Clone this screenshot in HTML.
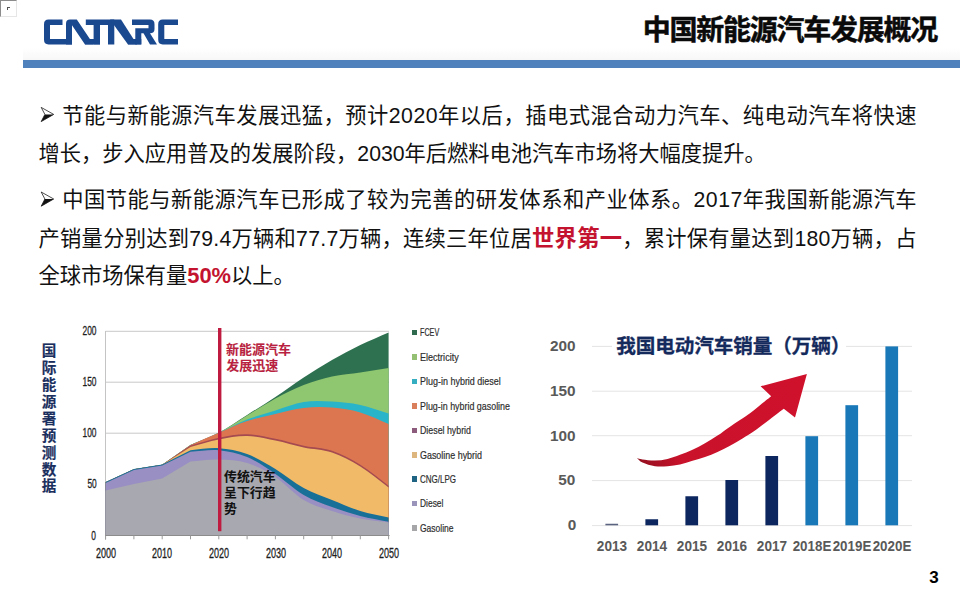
<!DOCTYPE html>
<html lang="zh"><head><meta charset="utf-8"><title>中国新能源汽车发展概况</title>
<style>
html,body{margin:0;padding:0;background:#fff;}
body{width:960px;height:600px;position:relative;overflow:hidden;font-family:"Liberation Sans",sans-serif;}
.t{position:absolute;white-space:nowrap;font-family:"Liberation Sans",sans-serif;}
.h{position:absolute;white-space:nowrap;overflow:hidden;color:transparent;font-family:"Liberation Sans","Noto Sans CJK SC",sans-serif;line-height:1.2;}
svg{position:absolute;left:0;top:0;}
svg text{font-family:"Liberation Sans","Noto Sans CJK SC",sans-serif;}
#bar{position:absolute;left:23px;top:59.8px;width:937px;height:8.2px;background:#4f81bd;}
#shade{position:absolute;left:23px;top:48px;width:937px;height:12px;background:linear-gradient(to bottom,rgba(248,248,248,0),rgba(246,246,246,0.9));}
#ico{position:absolute;left:0;top:0;width:15px;height:15px;border-top:1px solid #8c8c8c;border-left:1px solid #8c8c8c;border-right:1px solid #e6e6e6;border-bottom:1px solid #e6e6e6;box-sizing:content-box;}
#ico i{position:absolute;left:6px;top:6px;width:2px;height:2px;border-top:1px solid #555;border-left:1px solid #555;}
</style></head><body>
<div id="ico"><i></i></div>
<div id="shade"></div>
<div id="bar"></div>
<svg width="960" height="600" viewBox="0 0 960 600">

<g fill="#1a4990" transform="translate(0 -1.06) scale(1 1.033)">
<path d="M62.5 20 H48.5 Q44 20 44 24.5 V39.5 Q44 44 48.5 44 H72 V38.7 H50 V25.2 H62.5 Z"/>
<path d="M66 44 V24 Q66 20 70 20 H76.8 L93.6 44 H85 L72 25.5 V44 Z"/>
<path d="M85 38.8 H100 V44 H85 Z"/>
<path d="M85.8 20 H114.3 V44 H108 V25.3 H100 V44 H93.6 V25.3 H85.8 Z"/>
<path d="M110 20 H121 L137 44 H128 L113 24 Z"/>
<path d="M128 38.8 H141.3 V44 H128 Z"/>
<path d="M132 20 H150 Q154.5 20 154.5 24.5 V29 Q154.5 33.2 150 33.2 L157 44 H150 L143.5 33.2 H141.3 V44 H135.3 V28.4 H148.5 V25.2 H132 Z"/>
<path d="M178 20 H162.7 Q158.2 20 158.2 24.5 V39.5 Q158.2 44 162.7 44 H178 V38.7 H164.3 V25.2 H178 Z"/>
</g>
<g id="lchart">
<line x1="105.5" x2="389" y1="331.3" y2="331.3" stroke="#c9c9c9" stroke-width="1"/>
<line x1="105.5" x2="389" y1="382.2" y2="382.2" stroke="#c9c9c9" stroke-width="1"/>
<line x1="105.5" x2="389" y1="433.2" y2="433.2" stroke="#c9c9c9" stroke-width="1"/>
<line x1="105.5" x2="389" y1="484.3" y2="484.3" stroke="#c9c9c9" stroke-width="1"/>
<line x1="105.5" x2="105.5" y1="331" y2="540" stroke="#c4c4c4" stroke-width="1"/>
<path d="M105.6 482.2 L133.9 469.2 L162.2 464.8 L190.5 445.0 C199.9 440.9 209.4 437.8 218.8 432.8 C228.2 427.8 237.7 421.0 247.1 415.0 C256.5 409.0 266.0 403.2 275.4 397.0 C284.8 390.8 294.3 383.8 303.7 377.6 C313.1 371.4 322.6 365.4 332.0 360.0 C341.4 354.6 350.9 349.6 360.3 345.0 C369.7 340.4 379.2 336.6 388.6 332.4 L388.6 535.5 L105.6 535.5 Z" fill="#2e7150"/>
<path d="M105.6 482.2 L133.9 469.2 L162.2 464.8 L190.5 445.0 C199.9 440.9 209.4 437.7 218.8 432.8 C228.2 427.9 237.7 421.2 247.1 415.5 C256.5 409.8 266.0 403.7 275.4 398.6 C284.8 393.5 294.3 388.7 303.7 385.0 C313.1 381.3 322.6 378.5 332.0 376.4 C341.4 374.3 350.9 373.8 360.3 372.4 C369.7 371.0 379.2 369.5 388.6 368.0 L388.6 535.5 L105.6 535.5 Z" fill="#8fc670"/>
<path d="M105.6 482.2 L133.9 469.2 L162.2 464.8 L190.5 445.0 C199.9 440.9 209.4 437.0 218.8 432.8 C228.2 428.6 237.7 423.3 247.1 419.6 C256.5 415.9 266.0 413.3 275.4 410.4 C284.8 407.5 294.3 403.5 303.7 402.0 C313.1 400.5 322.6 401.1 332.0 401.6 C341.4 402.1 350.9 403.0 360.3 405.0 C369.7 407.0 379.2 410.7 388.6 413.6 L388.6 535.5 L105.6 535.5 Z" fill="#2ab4c9"/>
<path d="M105.6 482.2 L133.9 469.2 L162.2 464.8 L190.5 445.0 C199.9 440.9 209.4 436.8 218.8 432.8 C228.2 428.8 237.7 424.1 247.1 421.0 C256.5 417.9 266.0 416.2 275.4 414.0 C284.8 411.8 294.3 409.1 303.7 408.0 C313.1 406.9 322.6 406.9 332.0 407.6 C341.4 408.3 350.9 409.7 360.3 412.4 C369.7 415.1 379.2 420.1 388.6 424.0 L388.6 535.5 L105.6 535.5 Z" fill="#dc7650"/>
<path d="M105.6 482.2 L133.9 469.2 L162.2 464.8 L190.5 445.6 C199.9 443.0 209.4 439.7 218.8 437.8 C228.2 435.9 237.7 434.1 247.1 434.3 C256.5 434.5 266.0 436.9 275.4 438.8 C284.8 440.7 294.3 443.8 303.7 445.8 C313.1 447.8 322.6 447.6 332.0 450.8 C341.4 454.0 350.9 459.0 360.3 464.8 C369.7 470.6 379.2 478.8 388.6 485.8 L388.6 535.5 L105.6 535.5 Z" fill="#a54a50"/>
<path d="M105.6 482.2 L133.9 469.2 L162.2 464.8 L190.5 447.0 C199.9 444.5 209.4 441.3 218.8 439.5 C228.2 437.7 237.7 435.8 247.1 436.0 C256.5 436.2 266.0 438.6 275.4 440.5 C284.8 442.4 294.3 445.5 303.7 447.5 C313.1 449.5 322.6 449.3 332.0 452.5 C341.4 455.7 350.9 460.7 360.3 466.5 C369.7 472.3 379.2 480.5 388.6 487.5 L388.6 535.5 L105.6 535.5 Z" fill="#f0ba68"/>
<path d="M105.6 482.0 L133.9 469.0 L162.2 464.6 L190.5 450.2 C199.9 449.5 209.4 447.6 218.8 448.2 C228.2 448.8 237.7 450.5 247.1 454.0 C256.5 457.5 266.0 463.3 275.4 469.0 C284.8 474.7 294.3 482.8 303.7 488.0 C313.1 493.2 322.6 496.2 332.0 500.0 C341.4 503.8 350.9 508.1 360.3 511.0 C369.7 513.9 379.2 515.4 388.6 517.6 L388.6 535.5 L105.6 535.5 Z" fill="#186f98"/>
<path d="M105.6 483.0 L133.9 470.0 L162.2 465.6 L190.5 451.8 C199.9 451.3 209.4 449.3 218.8 450.2 C228.2 451.1 237.7 453.0 247.1 457.0 C256.5 461.0 266.0 467.7 275.4 474.0 C284.8 480.3 294.3 489.5 303.7 495.0 C313.1 500.5 322.6 503.5 332.0 507.0 C341.4 510.5 350.9 513.5 360.3 516.0 C369.7 518.5 379.2 519.9 388.6 521.8 L388.6 535.5 L105.6 535.5 Z" fill="#9a8fc2"/>
<path d="M105.6 490.4 L133.9 484.0 L162.2 478.4 L190.5 461.4 C199.9 460.8 209.4 459.2 218.8 459.5 C228.2 459.8 237.7 460.1 247.1 463.0 C256.5 465.9 266.0 470.8 275.4 477.0 C284.8 483.2 294.3 494.3 303.7 500.0 C313.1 505.7 322.6 507.9 332.0 511.0 C341.4 514.1 350.9 516.5 360.3 518.4 C369.7 520.3 379.2 521.1 388.6 522.4 L388.6 535.5 L105.6 535.5 Z" fill="#a8a8b0"/>
<line x1="105" x2="389.5" y1="535.5" y2="535.5" stroke="#8c8c8c" stroke-width="1.2"/>
<line x1="105.6" x2="105.6" y1="535.5" y2="539.3" stroke="#9a9a9a" stroke-width="1"/>
<line x1="133.9" x2="133.9" y1="535.5" y2="539.3" stroke="#9a9a9a" stroke-width="1"/>
<line x1="162.2" x2="162.2" y1="535.5" y2="539.3" stroke="#9a9a9a" stroke-width="1"/>
<line x1="190.5" x2="190.5" y1="535.5" y2="539.3" stroke="#9a9a9a" stroke-width="1"/>
<line x1="218.8" x2="218.8" y1="535.5" y2="539.3" stroke="#9a9a9a" stroke-width="1"/>
<line x1="247.1" x2="247.1" y1="535.5" y2="539.3" stroke="#9a9a9a" stroke-width="1"/>
<line x1="275.4" x2="275.4" y1="535.5" y2="539.3" stroke="#9a9a9a" stroke-width="1"/>
<line x1="303.7" x2="303.7" y1="535.5" y2="539.3" stroke="#9a9a9a" stroke-width="1"/>
<line x1="332.0" x2="332.0" y1="535.5" y2="539.3" stroke="#9a9a9a" stroke-width="1"/>
<line x1="360.3" x2="360.3" y1="535.5" y2="539.3" stroke="#9a9a9a" stroke-width="1"/>
<line x1="388.6" x2="388.6" y1="535.5" y2="539.3" stroke="#9a9a9a" stroke-width="1"/>
<rect x="218.0" y="328" width="3.4" height="203.2" fill="#bf1a40"/>
</g>
<g id="rchart">
<line x1="592" x2="912" y1="346.4" y2="346.4" stroke="#e4e4e4" stroke-width="1"/>
<line x1="592" x2="912" y1="391.2" y2="391.2" stroke="#e4e4e4" stroke-width="1"/>
<line x1="592" x2="912" y1="435.7" y2="435.7" stroke="#e4e4e4" stroke-width="1"/>
<line x1="592" x2="912" y1="480.6" y2="480.6" stroke="#e4e4e4" stroke-width="1"/>
<line x1="592" x2="912" y1="525.6" y2="525.6" stroke="#e4e4e4" stroke-width="1"/>
<rect x="612" y="334" width="234" height="24" fill="#fff"/>
<rect x="605.4" y="523.75" width="12.7" height="1.55" fill="#5a6480"/>
<rect x="645.4" y="519.25" width="12.7" height="6.05" fill="#0c2760"/>
<rect x="685.4" y="496.25" width="12.7" height="29.05" fill="#0c2760"/>
<rect x="725.4" y="480" width="12.7" height="45.30" fill="#0c2760"/>
<rect x="765.4" y="456" width="12.7" height="69.30" fill="#0c2760"/>
<rect x="805.4" y="436.2" width="12.7" height="89.10" fill="#1878b8"/>
<rect x="845.4" y="405.2" width="12.7" height="120.10" fill="#1878b8"/>
<rect x="885.4" y="346.4" width="12.7" height="178.90" fill="#1878b8"/>
<defs><linearGradient id="ag" x1="637" y1="460" x2="800" y2="380" gradientUnits="userSpaceOnUse"><stop offset="0" stop-color="#93101f"/><stop offset="0.22" stop-color="#c9122b"/><stop offset="1" stop-color="#cf112c"/></linearGradient></defs>
<path d="M636.9 457.9 C637.8 458.1 639.5 458.9 642.5 459.4 C645.5 459.8 650.8 460.7 655.0 460.6 C659.2 460.5 663.3 459.9 667.5 458.9 C671.7 457.9 675.8 456.3 680.0 454.8 C684.2 453.3 688.3 451.7 692.5 449.8 C696.7 447.9 700.8 445.6 705.0 443.2 C709.2 440.8 713.3 438.4 717.5 435.6 C721.7 432.9 724.6 430.4 730.0 426.7 C735.4 423.0 744.7 417.2 750.0 413.3 C755.3 409.4 758.5 406.3 762.0 403.5 C765.5 400.7 769.7 397.5 771.2 396.2 L760.6 386.25 L806.9 374 L795 417.5 L783.8 408.8 C781.5 410.5 774.8 415.6 770.0 419.2 C765.2 422.8 759.6 427.3 755.0 430.5 C750.4 433.7 746.7 435.9 742.5 438.5 C738.3 441.1 734.2 443.6 730.0 445.8 C725.8 448.1 721.7 450.1 717.5 452.0 C713.3 453.9 709.2 455.5 705.0 457.0 C700.8 458.5 696.7 459.6 692.5 460.8 C688.3 462.0 684.2 463.5 680.0 464.4 C675.8 465.3 671.7 465.9 667.5 466.2 C663.3 466.6 659.2 466.9 655.0 466.2 C650.8 465.6 645.5 463.9 642.5 462.5 C639.5 461.1 637.8 458.7 636.9 457.9 Z" fill="url(#ag)"/>
</g>
</svg>
<div class="t" style="right:863.8px;top:325.45000000000005px;font-size:12.3px;line-height:12.3px;color:#1e1e1e;font-weight:normal;transform:scaleX(0.68);transform-origin:100% 50%;-webkit-text-stroke:0.3px #1e1e1e;">200</div>
<div class="t" style="right:863.8px;top:376.35px;font-size:12.3px;line-height:12.3px;color:#1e1e1e;font-weight:normal;transform:scaleX(0.68);transform-origin:100% 50%;-webkit-text-stroke:0.3px #1e1e1e;">150</div>
<div class="t" style="right:863.8px;top:427.35px;font-size:12.3px;line-height:12.3px;color:#1e1e1e;font-weight:normal;transform:scaleX(0.68);transform-origin:100% 50%;-webkit-text-stroke:0.3px #1e1e1e;">100</div>
<div class="t" style="right:863.8px;top:478.45000000000005px;font-size:12.3px;line-height:12.3px;color:#1e1e1e;font-weight:normal;transform:scaleX(0.68);transform-origin:100% 50%;-webkit-text-stroke:0.3px #1e1e1e;">50</div>
<div class="t" style="right:863.8px;top:529.65px;font-size:12.3px;line-height:12.3px;color:#1e1e1e;font-weight:normal;transform:scaleX(0.68);transform-origin:100% 50%;-webkit-text-stroke:0.3px #1e1e1e;">0</div>
<div class="t" style="left:5.799999999999997px;width:200px;text-align:center;top:546.0px;font-size:14px;line-height:14px;color:#1e1e1e;font-weight:normal;transform:scaleX(0.645);transform-origin:50% 50%;-webkit-text-stroke:0.3px #1e1e1e;">2000</div>
<div class="t" style="left:62.39999999999998px;width:200px;text-align:center;top:546.0px;font-size:14px;line-height:14px;color:#1e1e1e;font-weight:normal;transform:scaleX(0.645);transform-origin:50% 50%;-webkit-text-stroke:0.3px #1e1e1e;">2010</div>
<div class="t" style="left:119.0px;width:200px;text-align:center;top:546.0px;font-size:14px;line-height:14px;color:#1e1e1e;font-weight:normal;transform:scaleX(0.645);transform-origin:50% 50%;-webkit-text-stroke:0.3px #1e1e1e;">2020</div>
<div class="t" style="left:175.59999999999997px;width:200px;text-align:center;top:546.0px;font-size:14px;line-height:14px;color:#1e1e1e;font-weight:normal;transform:scaleX(0.645);transform-origin:50% 50%;-webkit-text-stroke:0.3px #1e1e1e;">2030</div>
<div class="t" style="left:232.2px;width:200px;text-align:center;top:546.0px;font-size:14px;line-height:14px;color:#1e1e1e;font-weight:normal;transform:scaleX(0.645);transform-origin:50% 50%;-webkit-text-stroke:0.3px #1e1e1e;">2040</div>
<div class="t" style="left:288.8px;width:200px;text-align:center;top:546.0px;font-size:14px;line-height:14px;color:#1e1e1e;font-weight:normal;transform:scaleX(0.645);transform-origin:50% 50%;-webkit-text-stroke:0.3px #1e1e1e;">2050</div>
<div style="position:absolute;left:412.2px;top:329.7px;width:4.8px;height:5.6px;background:#2f6a4e"></div>
<div class="t" style="left:420px;top:327.1px;font-size:10.8px;line-height:10.8px;color:#2e2e2e;font-weight:normal;transform:scaleX(0.6666);transform-origin:0 50%;-webkit-text-stroke:0.2px #2e2e2e;">FCEV</div>
<div style="position:absolute;left:412.2px;top:354.2px;width:4.8px;height:5.6px;background:#93c072"></div>
<div class="t" style="left:420px;top:351.6px;font-size:10.8px;line-height:10.8px;color:#2e2e2e;font-weight:normal;transform:scaleX(0.8376);transform-origin:0 50%;-webkit-text-stroke:0.2px #2e2e2e;">Electricity</div>
<div style="position:absolute;left:412.2px;top:378.9px;width:4.8px;height:5.6px;background:#35aec2"></div>
<div class="t" style="left:420px;top:376.3px;font-size:10.8px;line-height:10.8px;color:#2e2e2e;font-weight:normal;transform:scaleX(0.8308);transform-origin:0 50%;-webkit-text-stroke:0.2px #2e2e2e;">Plug-in hybrid diesel</div>
<div style="position:absolute;left:412.2px;top:403.4px;width:4.8px;height:5.6px;background:#d97f5c"></div>
<div class="t" style="left:420px;top:400.8px;font-size:10.8px;line-height:10.8px;color:#2e2e2e;font-weight:normal;transform:scaleX(0.8237);transform-origin:0 50%;-webkit-text-stroke:0.2px #2e2e2e;">Plug-in hybrid gasoline</div>
<div style="position:absolute;left:412.2px;top:427.59999999999997px;width:4.8px;height:5.6px;background:#8c5a7a"></div>
<div class="t" style="left:420px;top:425.0px;font-size:10.8px;line-height:10.8px;color:#2e2e2e;font-weight:normal;transform:scaleX(0.817);transform-origin:0 50%;-webkit-text-stroke:0.2px #2e2e2e;">Diesel hybrid</div>
<div style="position:absolute;left:412.2px;top:452.2px;width:4.8px;height:5.6px;background:#dcb67e"></div>
<div class="t" style="left:420px;top:449.6px;font-size:10.8px;line-height:10.8px;color:#2e2e2e;font-weight:normal;transform:scaleX(0.8262);transform-origin:0 50%;-webkit-text-stroke:0.2px #2e2e2e;">Gasoline hybrid</div>
<div style="position:absolute;left:412.2px;top:476.2px;width:4.8px;height:5.6px;background:#1f6482"></div>
<div class="t" style="left:420px;top:473.6px;font-size:10.8px;line-height:10.8px;color:#2e2e2e;font-weight:normal;transform:scaleX(0.7406);transform-origin:0 50%;-webkit-text-stroke:0.2px #2e2e2e;">CNG/LPG</div>
<div style="position:absolute;left:412.2px;top:500.8px;width:4.8px;height:5.6px;background:#9a94ba"></div>
<div class="t" style="left:420px;top:498.20000000000005px;font-size:10.8px;line-height:10.8px;color:#2e2e2e;font-weight:normal;transform:scaleX(0.7797);transform-origin:0 50%;-webkit-text-stroke:0.2px #2e2e2e;">Diesel</div>
<div style="position:absolute;left:412.2px;top:525.2px;width:4.8px;height:5.6px;background:#a6a6a8"></div>
<div class="t" style="left:420px;top:522.6px;font-size:10.8px;line-height:10.8px;color:#2e2e2e;font-weight:normal;transform:scaleX(0.7883);transform-origin:0 50%;-webkit-text-stroke:0.2px #2e2e2e;">Gasoline</div>
<div class="t" style="right:384.20000000000005px;top:339.2px;font-size:14.7px;line-height:14.7px;color:#595959;font-weight:bold;transform:scaleX(1.045);transform-origin:100% 50%;">200</div>
<div class="t" style="right:384.20000000000005px;top:384.0px;font-size:14.7px;line-height:14.7px;color:#595959;font-weight:bold;transform:scaleX(1.045);transform-origin:100% 50%;">150</div>
<div class="t" style="right:384.20000000000005px;top:428.5px;font-size:14.7px;line-height:14.7px;color:#595959;font-weight:bold;transform:scaleX(1.045);transform-origin:100% 50%;">100</div>
<div class="t" style="right:384.20000000000005px;top:473.40000000000003px;font-size:14.7px;line-height:14.7px;color:#595959;font-weight:bold;transform:scaleX(1.045);transform-origin:100% 50%;">50</div>
<div class="t" style="right:384.20000000000005px;top:518.4px;font-size:14.7px;line-height:14.7px;color:#595959;font-weight:bold;transform:scaleX(1.045);transform-origin:100% 50%;">0</div>
<div class="t" style="left:511.9px;width:200px;text-align:center;top:539.7px;font-size:13.9px;line-height:13.9px;color:#595959;font-weight:bold;transform:scaleX(0.9799);transform-origin:50% 50%;">2013</div>
<div class="t" style="left:551.9px;width:200px;text-align:center;top:539.7px;font-size:13.9px;line-height:13.9px;color:#595959;font-weight:bold;transform:scaleX(0.9799);transform-origin:50% 50%;">2014</div>
<div class="t" style="left:591.9px;width:200px;text-align:center;top:539.7px;font-size:13.9px;line-height:13.9px;color:#595959;font-weight:bold;transform:scaleX(0.9799);transform-origin:50% 50%;">2015</div>
<div class="t" style="left:631.9px;width:200px;text-align:center;top:539.7px;font-size:13.9px;line-height:13.9px;color:#595959;font-weight:bold;transform:scaleX(0.9799);transform-origin:50% 50%;">2016</div>
<div class="t" style="left:671.9px;width:200px;text-align:center;top:539.7px;font-size:13.9px;line-height:13.9px;color:#595959;font-weight:bold;transform:scaleX(0.9799);transform-origin:50% 50%;">2017</div>
<div class="t" style="left:711.9px;width:200px;text-align:center;top:539.7px;font-size:13.9px;line-height:13.9px;color:#595959;font-weight:bold;transform:scaleX(0.9604);transform-origin:50% 50%;">2018E</div>
<div class="t" style="left:751.9px;width:200px;text-align:center;top:539.7px;font-size:13.9px;line-height:13.9px;color:#595959;font-weight:bold;transform:scaleX(0.9604);transform-origin:50% 50%;">2019E</div>
<div class="t" style="left:791.9px;width:200px;text-align:center;top:539.7px;font-size:13.9px;line-height:13.9px;color:#595959;font-weight:bold;transform:scaleX(0.9604);transform-origin:50% 50%;">2020E</div>
<div class="t" style="left:929.3px;top:568.8px;font-size:17.0px;line-height:17.0px;color:#000;font-weight:bold;transform:scaleX(1.0);transform-origin:0 50%;">3</div>
<svg width="960" height="600" viewBox="0 0 960 600">
<text x="642.7" y="39.7" font-size="28" font-weight="bold" fill="#0a0a0a" stroke="#0a0a0a" stroke-width="0.5" textLength="295.6" lengthAdjust="spacing">中国新能源汽车发展概况</text>
<text x="62.2" y="122.5" font-size="21.25" fill="#111" textLength="854.3" lengthAdjust="spacing">节能与新能源汽车发展迅猛，预计2020年以后，插电式混合动力汽车、纯电动汽车将快速</text>
<text x="38.6" y="161.3" font-size="21.25" fill="#111" textLength="727.2" lengthAdjust="spacing">增长，步入应用普及的发展阶段，2030年后燃料电池汽车市场将大幅度提升。</text>
<text x="62.2" y="207" font-size="21.25" fill="#111" textLength="854.3" lengthAdjust="spacing">中国节能与新能源汽车已形成了较为完善的研发体系和产业体系。2017年我国新能源汽车</text>
<text x="38.6" y="245.5" font-size="21.25" fill="#111" textLength="877.8" lengthAdjust="spacing">产销量分别达到79.4万辆和77.7万辆，连续三年位居<tspan font-weight="bold" fill="#c3132f" font-size="22.3">世界第一</tspan>，累计保有量达到180万辆，占</text>
<text x="38.6" y="283.1" font-size="21.25" fill="#111" textLength="256.1" lengthAdjust="spacing">全球市场保有量<tspan font-weight="bold" fill="#c3132f" font-size="21.9">50%</tspan>以上。</text>
<path d="M41.2 107.4 L53.7 114.4 L41.2 121.60000000000001 L44.900000000000006 114.4 Z" fill="none" stroke="#111" stroke-width="0.75" stroke-linejoin="miter"/><path d="M44.900000000000006 114.4 L53.7 114.4 L41.2 121.60000000000001 Z" fill="#111"/>
<path d="M41.2 192.0 L53.7 199.0 L41.2 206.2 L44.900000000000006 199.0 Z" fill="none" stroke="#111" stroke-width="0.75" stroke-linejoin="miter"/><path d="M44.900000000000006 199.0 L53.7 199.0 L41.2 206.2 Z" fill="#111"/>
<g font-size="14.6" font-weight="bold" fill="#1b2f5e" stroke="#1b2f5e" stroke-width="0.15">
<text x="41.7" y="356.48">国</text>
<text x="41.7" y="373.35">际</text>
<text x="41.7" y="390.23">能</text>
<text x="41.7" y="407.1">源</text>
<text x="41.7" y="423.98">署</text>
<text x="41.7" y="440.85">预</text>
<text x="41.7" y="457.73">测</text>
<text x="41.7" y="474.6">数</text>
<text x="41.7" y="491.48">据</text>
</g>
<text x="225.9" y="354.3" font-size="13" font-weight="bold" fill="#b81f40" stroke="#b81f40" stroke-width="0.1">新能源汽车</text>
<text x="226.2" y="370" font-size="13" font-weight="bold" fill="#b81f40" stroke="#b81f40" stroke-width="0.1">发展迅速</text>
<text x="224" y="480.7" font-size="12.9" font-weight="bold" fill="#111">传统汽车</text>
<text x="224" y="497" font-size="12.9" font-weight="bold" fill="#111">呈下行趋</text>
<text x="224" y="513" font-size="12.9" font-weight="bold" fill="#111">势</text>
<text x="616.3" y="353" font-size="19.6" font-weight="bold" fill="#142a5c" stroke="#142a5c" stroke-width="0.3" textLength="234" lengthAdjust="spacing">我国电动汽车销量（万辆）</text>
</svg>

<div class="h" style="left:642.7px;top:14px;font-size:28.0px;font-weight:bold">中国新能源汽车发展概况</div>
<div class="h" style="left:40px;top:101px;font-size:21.25px;width:880px">➢ 节能与新能源汽车发展迅猛，预计2020年以后，插电式混合动力汽车、纯电动汽车将快速</div>
<div class="h" style="left:40px;top:141px;font-size:21.25px;width:880px">增长，步入应用普及的发展阶段，2030年后燃料电池汽车市场将大幅度提升。</div>
<div class="h" style="left:40px;top:185px;font-size:21.25px;width:880px">➢ 中国节能与新能源汽车已形成了较为完善的研发体系和产业体系。2017年我国新能源汽车</div>
<div class="h" style="left:40px;top:225px;font-size:21.25px;width:880px">产销量分别达到79.4万辆和77.7万辆，连续三年位居<b>世界第一</b>，累计保有量达到180万辆，占</div>
<div class="h" style="left:40px;top:264px;font-size:21.25px;width:880px">全球市场保有量<b>50%</b>以上。</div>
<div class="h" style="left:42px;top:343px;font-size:13px;width:14px;line-height:17px;font-weight:bold">国际能源署预测数据</div>
<div class="h" style="left:225px;top:342px;font-size:13px;width:70px;line-height:16px;font-weight:bold">新能源汽车发展迅速</div>
<div class="h" style="left:224px;top:469px;font-size:13px;width:54px;line-height:16px;font-weight:bold">传统汽车呈下行趋势</div>
<div class="h" style="left:616px;top:335px;font-size:19px;font-weight:bold">我国电动汽车销量（万辆）</div>

</body></html>
